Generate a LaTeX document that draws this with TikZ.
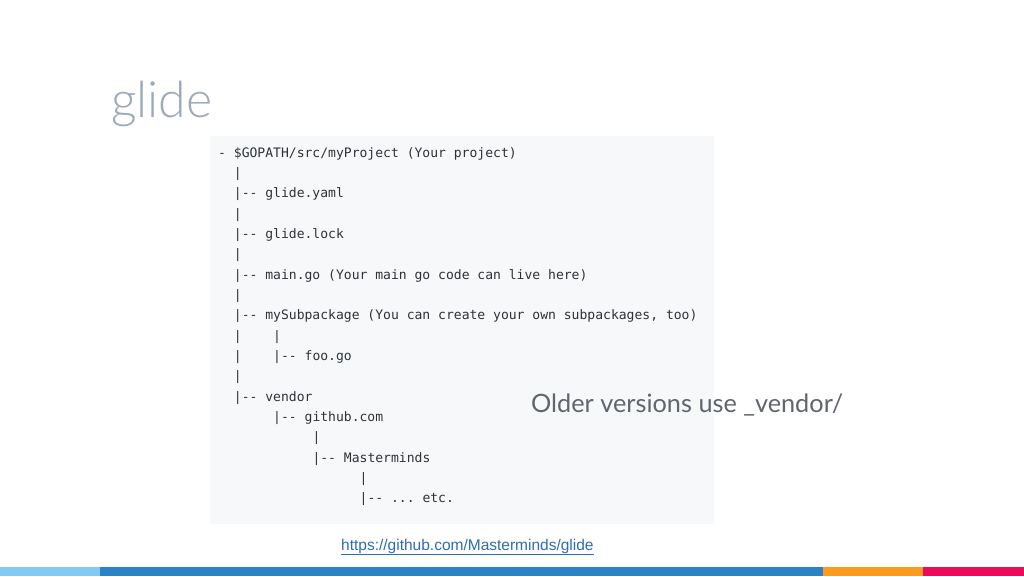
\documentclass[tikz,border=0pt]{standalone}
\usepackage{fontspec}
\setmonofont{DejaVu Sans Mono}
\newfontfamily\latofont{Lato}
\newfontfamily\latolight{Lato Light}
\newfontfamily\arialfont{Liberation Sans}
\definecolor{codebg}{HTML}{F6F8FA}
\definecolor{codetext}{HTML}{2F3337}
\definecolor{titlecol}{HTML}{9AAABB}
\definecolor{notecol}{HTML}{5F6670}
\definecolor{urlcol}{HTML}{2E6DB4}
\definecolor{barlight}{HTML}{82C9F5}
\definecolor{barblue}{HTML}{2A83C6}
\definecolor{barorange}{HTML}{FF9A1E}
\definecolor{barpink}{HTML}{EE0A5A}
\begin{document}
\begin{tikzpicture}[x=1pt,y=-1pt,
  codeline/.style={anchor=base west, inner sep=0pt, font=\fontsize{13.05}{15}\selectfont\ttfamily, text=codetext}]
\useasboundingbox (0,0) rectangle (1024,576);
\fill[white] (0,0) rectangle (1024,576);
\fill[codebg] (210,136) rectangle (714,524);
% title
\node (title) [anchor=base west, inner sep=0pt, font=\latolight\fontsize{50}{52}\selectfont, text=titlecol] at (111,117) {glide};
% code lines (col width 7.86, line pitch 20.35)
\def\cw{7.86}
\node (l1)  [codeline] at (218,157) {- \$GOPATH/src/myProject (Your project)};
\node (l2)  [codeline] at ({218+2*\cw},{157+1*20.35}) {|};
\node (l3)  [codeline] at ({218+2*\cw},{157+2*20.35}) {|-- glide.yaml};
\node (l4)  [codeline] at ({218+2*\cw},{157+3*20.35}) {|};
\node (l5)  [codeline] at ({218+2*\cw},{157+4*20.35}) {|-- glide.lock};
\node (l6)  [codeline] at ({218+2*\cw},{157+5*20.35}) {|};
\node (l7)  [codeline] at ({218+2*\cw},{157+6*20.35}) {|-- main.go (Your main go code can live here)};
\node (l8)  [codeline] at ({218+2*\cw},{157+7*20.35}) {|};
\node (l9)  [codeline] at ({218+2*\cw},{157+8*20.35}) {|-- mySubpackage (You can create your own subpackages, too)};
\node (l10) [codeline] at ({218+2*\cw},{157+9*20.35}) {|};
\node (l10b)[codeline] at ({218+7*\cw},{157+9*20.35}) {|};
\node (l11a)[codeline] at ({218+2*\cw},{157+10*20.35}) {|};
\node (l11) [codeline] at ({218+7*\cw},{157+10*20.35}) {|-- foo.go};
\node (l12) [codeline] at ({218+2*\cw},{157+11*20.35}) {|};
\node (l13) [codeline] at ({218+2*\cw},{157+12*20.35}) {|-- vendor};
\node (l14) [codeline] at ({218+7*\cw},{157+13*20.35}) {|-- github.com};
\node (l15) [codeline] at ({218+12*\cw},{157+14*20.35}) {|};
\node (l16) [codeline] at ({218+12*\cw},{157+15*20.35}) {|-- Masterminds};
\node (l17) [codeline] at ({218+18*\cw},{157+16*20.35}) {|};
\node (l18) [codeline] at ({218+18*\cw},{157+17*20.35}) {|-- ... etc.};
% note
\node (note) [anchor=base west, inner sep=0pt, font=\latofont\fontsize{25.3}{27}\selectfont, text=notecol] at (531,412) {Older versions use \_vendor/};
% url
\node (url) [anchor=base west, inner sep=0pt, font=\arialfont\fontsize{15.5}{17}\selectfont, text=urlcol] at (341,550) {\underline{https://github.com/Masterminds/glide}};
% bottom bar
\fill[barlight]  (0,567)   rectangle (100,576);
\fill[barblue]   (100,567) rectangle (823,576);
\fill[barorange] (823,567) rectangle (923,576);
\fill[barpink]   (923,567) rectangle (1024,576);
\end{tikzpicture}
\end{document}
